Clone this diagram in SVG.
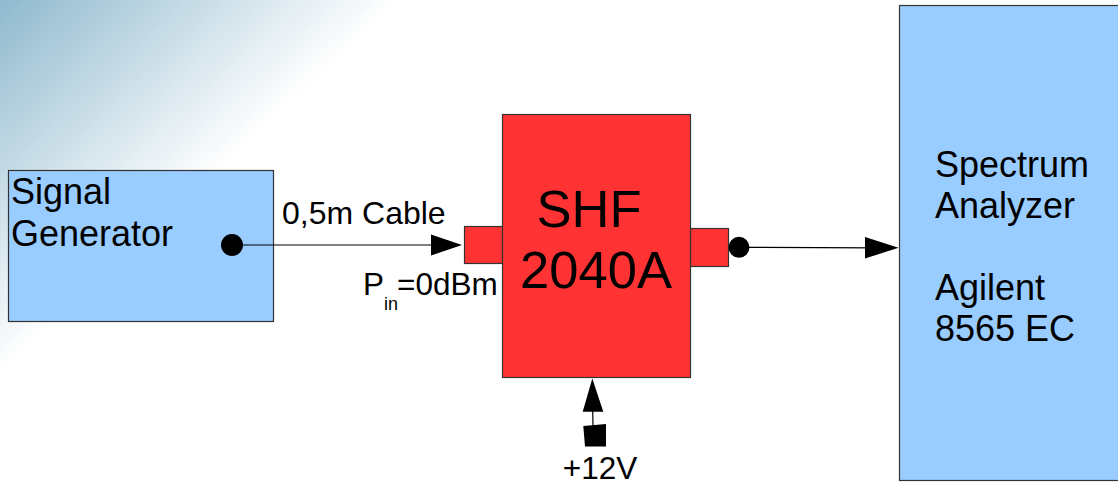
<svg xmlns="http://www.w3.org/2000/svg" width="1118" height="485" viewBox="0 0 1118 485">
  <defs>
    <linearGradient id="bg" gradientUnits="userSpaceOnUse" x1="0" y1="0" x2="186" y2="200">
      <stop offset="0" stop-color="#8fb9ce"/>
      <stop offset="1" stop-color="#ffffff"/>
    </linearGradient>
  </defs>
  <style>
    .t { font-family: "Liberation Sans", Arial, sans-serif; fill: #000; }
    .blue { fill: #99ccff; stroke: #333333; stroke-width: 1.2; }
    .red { fill: #ff3333; stroke: #333333; stroke-width: 1.2; }
    .wire { stroke: #000; stroke-width: 1.2; fill: none; }
    .head { fill: #000; stroke: none; }
  </style>
  <rect x="0" y="0" width="1118" height="485" fill="#ffffff"/>
  <rect x="0" y="0" width="1118" height="485" fill="url(#bg)"/>

  <g id="signal-generator">
    <rect class="blue" x="8.5" y="170.5" width="265" height="151"/>
    <text class="t" font-size="36" x="11" y="204">Signal</text>
    <text class="t" font-size="36" x="11" y="246">Generator</text>
  </g>

  <g id="shf-2040a">
    <rect class="red" x="464.5" y="226.5" width="38" height="37"/>
    <rect class="red" x="690.5" y="228.5" width="38" height="38"/>
    <rect class="red" x="502.5" y="114.5" width="188" height="263"/>
    <text class="t" font-size="52.5" x="589" y="227" text-anchor="middle">SHF</text>
    <text class="t" font-size="52.5" x="596" y="288" text-anchor="middle">2040A</text>
  </g>

  <g id="spectrum-analyzer">
    <rect class="blue" x="899.5" y="5.5" width="240" height="475"/>
    <text class="t" font-size="36" x="935" y="177">Spectrum</text>
    <text class="t" font-size="36" x="935" y="218">Analyzer</text>
    <text class="t" font-size="36" x="935" y="300">Agilent</text>
    <text class="t" font-size="36" x="935" y="341">8565 EC</text>
  </g>

  <g id="connectors">
    <line class="wire" x1="232" y1="245" x2="440" y2="245"/>
    <circle class="head" cx="232" cy="245" r="11"/>
    <polygon class="head" points="462,245 431,234.5 431,255.5"/>

    <line class="wire" x1="739" y1="247.3" x2="875" y2="247.8"/>
    <circle class="head" cx="739" cy="247.3" r="10.5"/>
    <polygon class="head" points="898.5,247.8 865,237 865,258.5"/>

    <line class="wire" x1="593" y1="426" x2="592.5" y2="400"/>
    <polygon class="head" points="592.3,378.5 582.7,411.7 603.3,411.7"/>
    <polygon class="head" points="583.3,426 606,424 606,446.5 585,446.5"/>
  </g>

  <g id="labels">
    <text class="t" font-size="32" x="282" y="224">0,5m Cable</text>
    <text class="t" font-size="31.5" x="363" y="295">P</text>
    <text class="t" font-size="18" x="384" y="310">in</text>
    <text class="t" font-size="31.5" x="397" y="295">=0dBm</text>
    <text class="t" font-size="31.5" x="600" y="479" text-anchor="middle">+12V</text>
  </g>
</svg>
